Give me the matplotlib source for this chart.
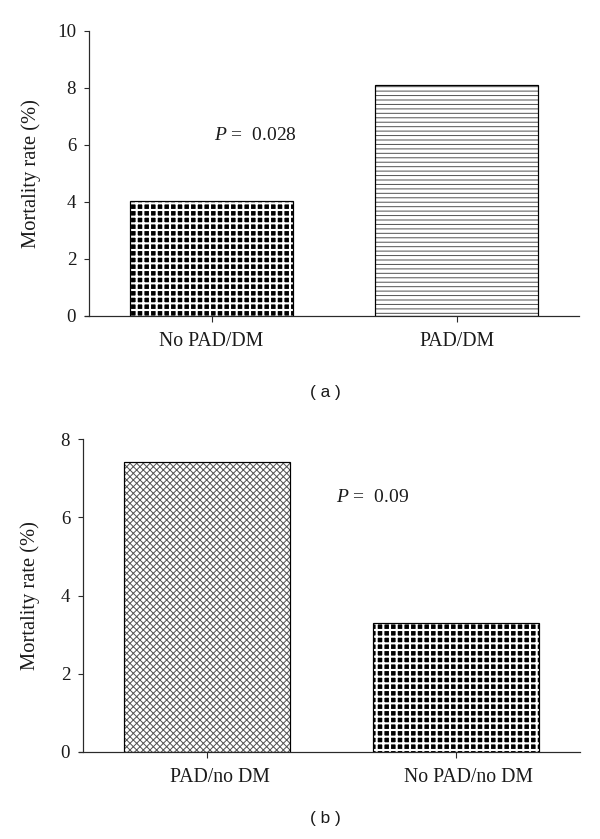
import matplotlib
matplotlib.use('Agg')
import matplotlib.pyplot as plt
from matplotlib.transforms import ScaledTranslation

# ---- data ----
categories_a = ['No PAD/DM', 'PAD/DM']
values_a = [4.05, 8.1]
styles_a = ['grid', 'hlines']
yticks_a = [0, 2, 4, 6, 8, 10]
p_label_a = '0.028'

categories_b = ['PAD/no DM', 'No PAD/no DM']
values_b = [7.4, 3.3]
styles_b = ['cross', 'grid']
yticks_b = [0, 2, 4, 6, 8]
p_label_b = '0.09'

ylabel = 'Mortality rate (%)'

plt.rcParams['font.family'] = ['Liberation Serif', 'DejaVu Serif']
plt.rcParams['mathtext.fontset'] = 'custom'
plt.rcParams['mathtext.it'] = 'Liberation Serif:italic'
plt.rcParams['mathtext.rm'] = 'Liberation Serif'

DPI = 80
fig = plt.figure(figsize=(600 / DPI, 839 / DPI), dpi=DPI)
axA = fig.add_axes([89 / 600, 1 - 316 / 839, 490 / 600, 285 / 839])
axB = fig.add_axes([83 / 600, 1 - 752 / 839, 497 / 600, 313 / 839])

W = 0.668


def draw_bar(ax, x, h, style):
    if style == 'grid':
        spec = dict(color='black', edgecolor='white', hatch='++', hlw=1.9)
    elif style == 'hlines':
        spec = dict(color='white', edgecolor='#555555', hatch='---', hlw=0.9)
    else:
        spec = dict(color='white', edgecolor='#555555', hatch='xxxx', hlw=0.9)
    with plt.rc_context({'hatch.linewidth': spec['hlw']}):
        bars = ax.bar([x], [h], width=W, color=spec['color'],
                      edgecolor=spec['edgecolor'], hatch=spec['hatch'],
                      linewidth=0, zorder=2)
        for b in bars:
            if hasattr(b, 'set_hatch_linewidth'):
                b.set_hatch_linewidth(spec['hlw'])
    ax.bar([x], [h], width=W, fill=False, edgecolor='black', linewidth=1.1, zorder=3)


def style_axes(ax, cats, vals, styles, yticks, ymax):
    xs = list(range(len(cats)))
    for x, v, s in zip(xs, vals, styles):
        draw_bar(ax, x, v, s)
    ax.set_xlim(-0.5, 1.5)
    ax.set_ylim(0, ymax)
    ax.set_yticks(yticks)
    ax.set_yticklabels([str(t) for t in yticks])
    ax.set_xticks(xs)
    ax.set_xticklabels(cats)
    for sp in ['top', 'right']:
        ax.spines[sp].set_visible(False)
    for sp in ['left', 'bottom']:
        ax.spines[sp].set_linewidth(1.1)
        ax.spines[sp].set_color('#2a2a2a')
    ax.spines['bottom'].set_bounds(-0.517, 1.5)
    ax.tick_params(axis='y', direction='out', length=4.5, width=1.0,
                   color='#2a2a2a', pad=7, labelsize=17, labelcolor='#1a1a1a')
    ax.tick_params(axis='x', direction='out', length=5.5, width=1.0,
                   color='#2a2a2a', pad=9, labelsize=17.8, labelcolor='#1a1a1a')
    ax.set_ylabel(ylabel, fontsize=18.5, color='#1a1a1a')


style_axes(axA, categories_a, values_a, styles_a, yticks_a, 10)
style_axes(axB, categories_b, values_b, styles_b, yticks_b, 8)

axA.yaxis.set_label_coords(-0.098, 0.5)
axB.yaxis.set_label_coords(-0.086, 0.5)

# shift panel b category labels slightly right as in the original
for lab in axB.get_xticklabels():
    lab.set_transform(lab.get_transform() + ScaledTranslation(13 / DPI, 0, fig.dpi_scale_trans))

axA.text(0.01, 6.35, r'$P$ =  ' + p_label_a, ha='left', va='center',
         fontsize=17.5, color='#1a1a1a')
axB.text(0.52, 6.5, r'$P$ =  ' + p_label_b, ha='left', va='center',
         fontsize=17.5, color='#1a1a1a')

fig.text(325 / 600, 1 - 393 / 839, '( a )', ha='center', va='center',
         fontsize=15.5, family='Liberation Sans', color='#1a1a1a')
fig.text(325 / 600, 1 - 818 / 839, '( b )', ha='center', va='center',
         fontsize=15.5, family='Liberation Sans', color='#1a1a1a')

fig.savefig('out.png', dpi=DPI, facecolor='white')
